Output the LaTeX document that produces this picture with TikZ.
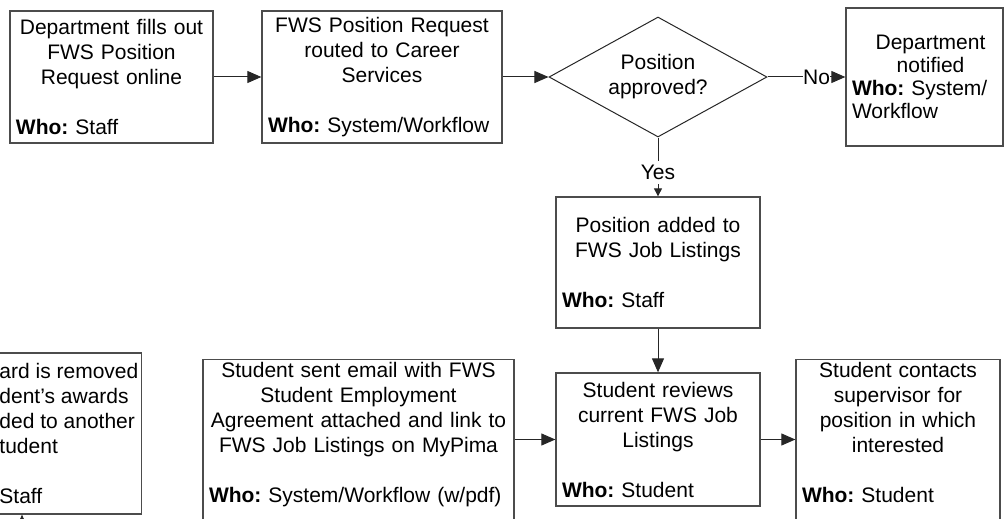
\documentclass[tikz,border=0pt]{standalone}
\usepackage{fontspec}
\setmainfont{Liberation Sans}
\usetikzlibrary{shapes.geometric,arrows.meta}

\tikzset{
  stepbox/.style={draw=black!70, line width=1.3pt, fill=white, align=center,
    inner xsep=6pt, inner ysep=3pt, font=\fontsize{21}{25}\selectfont\frenchspacing},
  decision/.style={diamond, aspect=1.8, draw=black!85, line width=1pt, align=center,
    inner sep=0pt, minimum width=218pt, minimum height=120pt,
    font=\fontsize{21}{25}\selectfont},
  flow/.style={draw=black!85, line width=1pt, -{Triangle[length=14pt,width=12pt]}},
  flowlabel/.style={fill=white, inner xsep=0pt, inner ysep=5pt,
    font=\fontsize{21}{25}\selectfont},
}
\newcommand{\who}[1]{\textbf{Who:} #1\hfill\null}

\begin{document}
\begin{tikzpicture}[x=1pt,y=-1pt]
\useasboundingbox (0,0) rectangle (1005,519);
\clip (0,0) rectangle (1005,519);

% top row
\node[stepbox, text width=191pt, minimum height=132pt] (request) at (111.5,77)
  {Department fills out\\FWS Position\\Request online\\[25pt]\who{Staff}};
\node[stepbox, text width=228pt, minimum height=132pt] (routed) at (382,77)
  {FWS Position Request\\routed to Career\\Services\\[25pt]\who{System/Workflow}};
\node[decision] (approved) at (658,77) {Position\\approved?};
\node[stepbox, text width=145pt, minimum height=138pt,
  font=\fontsize{21}{23}\selectfont\frenchspacing] (notified) at (924.5,77)
  {\hspace*{12pt}Department\\\hspace*{12pt}notified\\\who{System/}\\Workflow\hfill\null};

% middle
\node[stepbox, text width=192pt, minimum height=131pt] (added) at (658,262.5)
  {Position added to\\FWS Job Listings\\[25pt]\who{Staff}};

% bottom row
\node[stepbox, align=left, inner xsep=3pt, minimum height=161pt,
  anchor=east] (award) at (142,433.5)
  {ard is removed\\dent's awards\\ded to another\\tudent\\[25pt]Staff};
\node[stepbox, text width=299pt, anchor=north, text depth=170pt] (email) at (358.5,359)
  {Student sent email with FWS\\Student Employment\\Agreement attached and link to\\FWS Job Listings on MyPima\\[25pt]\who{System/Workflow (w/pdf)}};
\node[stepbox, text width=192pt, minimum height=133pt] (reviews) at (658,439.5)
  {Student reviews\\current FWS Job\\Listings\\[25pt]\who{Student}};
\node[stepbox, text width=192pt, anchor=north, text depth=170pt] (contacts) at (898,359)
  {Student contacts\\supervisor for\\position in which\\interested\\[25pt]\who{Student}};

\coordinate (below) at (22,560);

% connectors
\draw[flow] (request) -- (routed);
\draw[flow] (routed) -- (approved);
\draw[flow] (approved) -- node[flowlabel, pos=0.63] {No} (notified);
\draw[flow, -{Triangle[length=8pt,width=8pt]}] (approved) -- node[flowlabel, inner xsep=1pt, inner ysep=4pt, pos=0.6] {Yes} (added);
\draw[flow] (added) -- (reviews);
\draw[flow] (reviews.west -| email.east) -- (reviews.west);
\draw[flow] (reviews.east) -- (reviews.east -| contacts.west);
\draw[flow] (below) -- (below |- award.south);
\end{tikzpicture}
\end{document}
